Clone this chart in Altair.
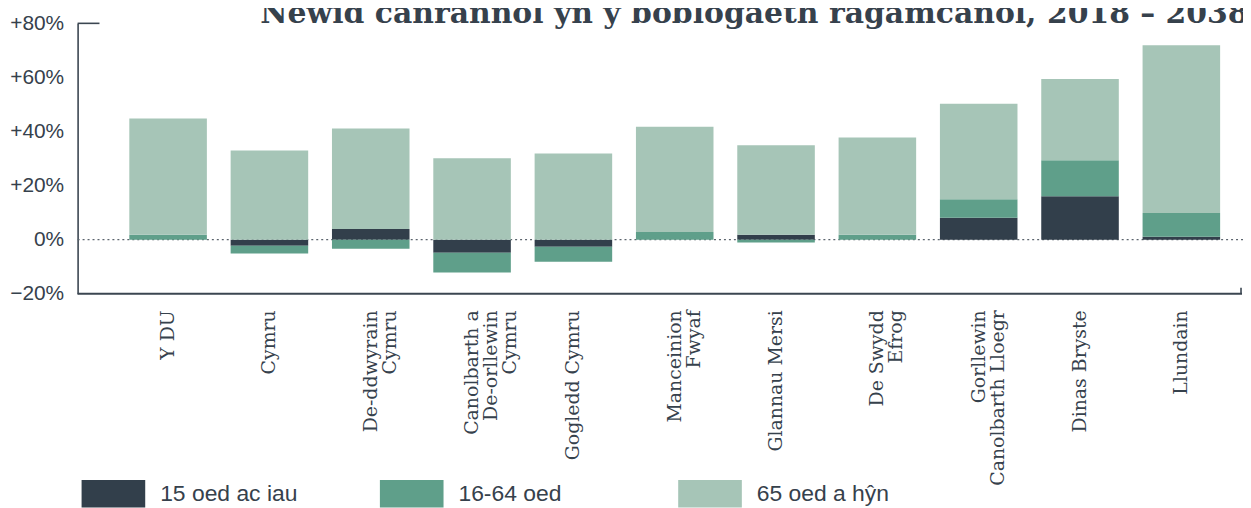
import altair as alt
import pandas as pd

categories = [
    "Y DU", "Cymru", "De-ddwyrain Cymru", "Canolbarth a De-orllewin Cymru",
    "Gogledd Cymru", "Manceinion Fwyaf", "Glannau Mersi", "De Swydd Efrog",
    "Gorllewin Canolbarth Lloegr", "Dinas Bryste", "Llundain",
]
# axis label line breaks ("|" separates lines)
label_lines = [
    "Y DU", "Cymru", "De-ddwyrain|Cymru", "Canolbarth a|De-orllewin|Cymru",
    "Gogledd Cymru", "Manceinion|Fwyaf", "Glannau Mersi", "De Swydd|Efrog",
    "Gorllewin|Canolbarth Lloegr", "Dinas Bryste", "Llundain",
]
age_groups = ["15 oed ac iau", "16-64 oed", "65 oed a hŷn"]
under_16 = [0.0, -2.2, 4.0, -4.8, -2.6, 0.0, 1.8, 0.0, 8.1, 16.1, 1.1]
age_16_64 = [1.8, -2.9, -3.3, -7.3, -5.5, 2.9, -1.0, 1.8, 6.9, 13.3, 8.8]
age_65_plus = [43.0, 33.0, 37.1, 30.1, 31.9, 38.9, 33.1, 36.0, 35.3, 30.0, 62.0]
colors = ["#323f4b", "#5f9f8a", "#a6c5b7"]
y_ticks = [-20, 0, 20, 40, 60, 80]
title_text = "Newid canrannol yn y boblogaeth ragamcanol, 2018 – 2038"

rows = []
for i, (c, lab) in enumerate(zip(categories, label_lines)):
    for j, (g, vals) in enumerate(zip(age_groups, [under_16, age_16_64, age_65_plus])):
        rows.append({"region": lab, "group": g, "order": j, "value": vals[i]})
df = pd.DataFrame(rows)

W, H = 1172, 272
AX = "#3b4651"
TXT = "#36414c"

x_scale = alt.Scale(domain=label_lines, range=[52, 1149], paddingInner=0.2346, paddingOuter=0)
y_scale = alt.Scale(domain=[-20, 80], nice=False, zero=False)

zero_line = alt.Chart(pd.DataFrame({"y": [0]})).mark_rule(
    strokeDash=[2, 3], color="#5c656e", strokeWidth=1.3
).encode(y=alt.Y("y:Q", scale=y_scale), x=alt.value(0), x2=alt.value(W))

bars = alt.Chart(df).mark_bar().encode(
    x=alt.X("region:N", scale=x_scale, sort=label_lines, axis=alt.Axis(
        title=None, labelAngle=-90, labelAlign="right", labelBaseline="middle",
        labelExpr="split(datum.label, '|')", labelFont="DejaVu Serif",
        labelFontSize=19, labelLineHeight=19, labelColor=TXT, ticks=False,
        domain=False, labelPadding=16, grid=False)),
    y=alt.Y("value:Q", stack="zero", scale=y_scale, axis=alt.Axis(
        title=None, values=y_ticks, grid=False, ticks=False, domain=True,
        domainColor=AX, domainWidth=1.6, labelFont="Liberation Sans",
        labelFontSize=21, labelColor=TXT, labelPadding=14,
        labelExpr="datum.value > 0 ? '+' + datum.value + '%' : (datum.value < 0 ? '\u2212' + abs(datum.value) + '%' : '0%')")),
    color=alt.Color("group:N", scale=alt.Scale(domain=age_groups, range=colors),
                    legend=alt.Legend(
                        title=None, orient="none", legendX=4, legendY=441,
                        direction="horizontal", columns=3, gridAlign="all",
                        symbolType="M-1,-0.43H1V0.43H-1Z", symbolSize=4096,
                        symbolStrokeWidth=0, symbolOpacity=1,
                        labelFont="Liberation Sans", labelFontSize=23,
                        labelColor=TXT, labelOffset=15, columnPadding=82,
                        padding=0)),
    order=alt.Order("order:Q"),
)

bottom_line = alt.Chart(pd.DataFrame({"y": [-20]})).mark_rule(
    color=AX, strokeWidth=2
).encode(y=alt.Y("y:Q", scale=y_scale), x=alt.value(0), x2=alt.value(W - 1))

top_tick = alt.Chart(pd.DataFrame({"y": [80]})).mark_rule(
    color=AX, strokeWidth=1.6
).encode(y=alt.Y("y:Q", scale=y_scale), x=alt.value(0), x2=alt.value(22))

right_tick = alt.Chart(pd.DataFrame({"y": [-20], "y2": [-17.8]})).mark_rule(
    color=AX, strokeWidth=1.6
).encode(y=alt.Y("y:Q", scale=y_scale), y2="y2:Q", x=alt.value(W - 2))

chart = alt.layer(zero_line, bars, bottom_line, top_tick, right_tick).properties(
    width=W, height=H,
    title=alt.TitleParams(title_text, anchor="start", dx=252, fontSize=30,
                          font="DejaVu Serif", fontWeight="bold", color=TXT,
                          offset=0, dy=17),
    autosize=alt.AutoSizeParams(type="none"),
    padding={"left": 70, "top": 14, "right": 0, "bottom": 220},
).configure_view(stroke=None).resolve_scale(y="shared")

chart.save("out.html", embed_options={"renderer": "svg", "actions": False})
